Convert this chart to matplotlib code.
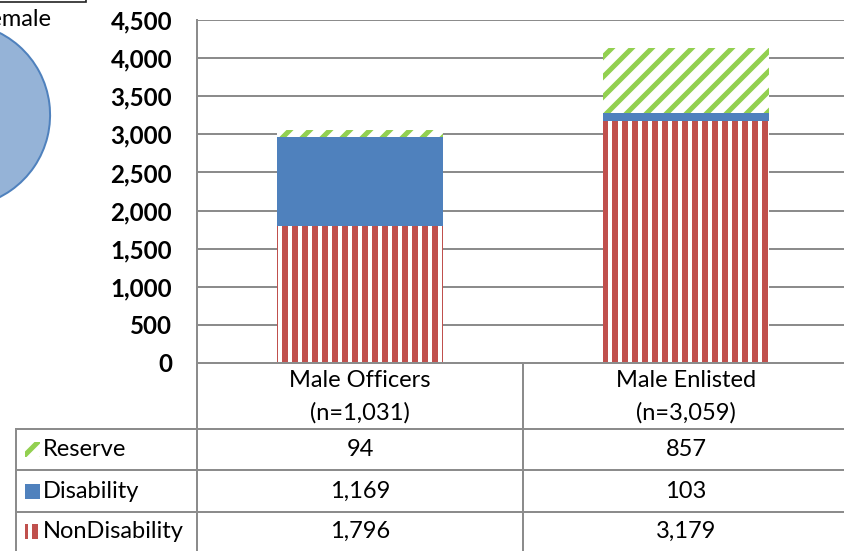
import matplotlib
matplotlib.use('Agg')
import matplotlib.pyplot as plt
from matplotlib.patches import Rectangle
from matplotlib.ticker import FuncFormatter

# data
categories = ['Male Officers\n(n=1,031)', 'Male Enlisted\n(n=3,059)']
series = ['Reserve', 'Disability', 'NonDisability']
nondisability = [1796, 3179]
disability = [1169, 103]
reserve = [94, 857]
pie_labels = ['Male', 'Female']
pie_values = [92, 8]

red = '#C0504D'
blue = '#4F81BD'
green = '#92D050'
grid = '#8C8C8C'

W, H, DPI = 844, 551, 120
FS = 14.2
plt.rcParams['font.family'] = ['Lato', 'DejaVu Sans']

fig = plt.figure(figsize=(W / DPI, H / DPI), dpi=DPI)

def box(x0, y0, x1, y1):
    # pixel box (top-left origin) -> figure fraction
    return [x0 / W, (H - y1) / H, (x1 - x0) / W, (y1 - y0) / H]

# overlay for table / clipped pie bits
ov = fig.add_axes([0, 0, 1, 1], zorder=0)
ov.set_xlim(0, W)
ov.set_ylim(H, 0)
ov.axis('off')

# clipped pie on the left
pax = fig.add_axes(box(-135, 22, 51, 208), zorder=1)
pax.pie(pie_values, colors=['#95B3D7', '#95B3D7'], startangle=90, counterclock=False,
        wedgeprops=dict(edgecolor=blue, linewidth=1.2))
pax.set_xlim(-1.01, 1.01)
pax.set_ylim(-1.01, 1.01)
pax.axis('off')
ov.text(52, 19, 'Female', ha='right', va='center', fontsize=FS)
ov.text(12, 155, '%', ha='right', va='center', fontsize=FS)
ov.add_patch(Rectangle((-50, -40), 136, 42, fill=False, edgecolor='#222222', lw=1))

# main bar chart
ax = fig.add_axes(box(197, 20, 849, 363), zorder=2)
x = range(len(categories))
bw = 0.51

plt.rcParams['hatch.linewidth'] = 3.6
ax.bar(x, nondisability, bw, color='white', edgecolor=red, hatch='||', linewidth=0)
ax.bar(x, disability, bw, bottom=nondisability, color=blue, linewidth=0)
plt.rcParams['hatch.linewidth'] = 3.0
bottoms = [a + b for a, b in zip(nondisability, disability)]
ax.bar(x, reserve, bw, bottom=bottoms, color='white', edgecolor=green, hatch='//', linewidth=0)

ax.set_xlim(-0.5, 1.5)
ax.set_ylim(0, 4500)
ax.set_yticks(range(0, 4501, 500))
ax.yaxis.set_major_formatter(FuncFormatter(lambda v, p: f'{int(v):,}'))
ax.tick_params(axis='y', length=0, pad=15, labelsize=14.5)
for t in ax.get_yticklabels():
    t.set_fontweight('bold')
ax.set_xticks([])
ax.yaxis.grid(True, color=grid, linewidth=1.2)
ax.set_axisbelow(True)
for s in ['top', 'right']:
    ax.spines[s].set_visible(False)
ax.spines['left'].set_color(grid)
ax.spines['bottom'].set_color(grid)
ax.spines['left'].set_linewidth(1.2)
ax.spines['bottom'].set_linewidth(1.2)

# data table below
lc = '#8C8C8C'
lw = 1.2
col_edges = [197, 523, 849]
centers = [(col_edges[i] + col_edges[i + 1]) / 2 for i in range(len(categories))]
row_lines = [429, 470, 512]
ov.plot([197, 197], [363, H], color=lc, lw=lw)
ov.plot([523, 523], [363, H], color=lc, lw=lw)
ov.plot([16, 16], [429, H], color=lc, lw=lw)
for y in row_lines:
    ov.plot([16, W], [y, y], color=lc, lw=lw)

for c, lab in zip(centers, categories):
    ov.text(c, 397, lab, ha='center', va='center', fontsize=FS, linespacing=1.6)

rows = [('Reserve', reserve, dict(facecolor='white', edgecolor=green, hatch='//', lw=0), 3.0),
        ('Disability', disability, dict(facecolor=blue, lw=0), 1.0),
        ('NonDisability', nondisability, dict(facecolor='white', edgecolor=red, hatch='||', lw=0), 3.6)]
row_mid = [449, 491, 531]
for (name, vals, style, hl), ym in zip(rows, row_mid):
    plt.rcParams['hatch.linewidth'] = hl
    ov.add_patch(Rectangle((25, ym - 7), 15, 15, **style))
    ov.text(43, ym, name, ha='left', va='center', fontsize=FS)
    for c, v in zip(centers, vals):
        ov.text(c, ym, f'{v:,}', ha='center', va='center', fontsize=FS)

fig.savefig('out.png', dpi=DPI)
